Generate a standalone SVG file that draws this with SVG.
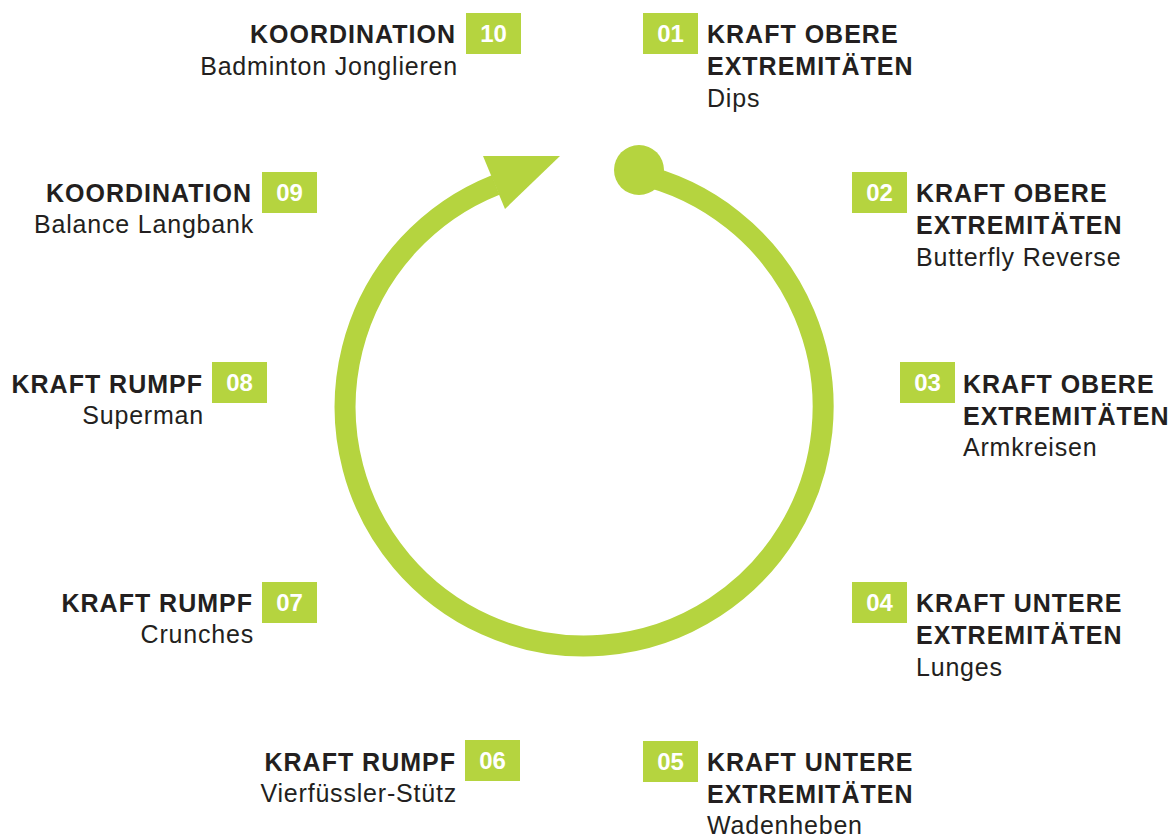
<svg xmlns="http://www.w3.org/2000/svg" width="1172" height="837" viewBox="0 0 1172 837">
<style>
.bg{fill:#ffffff}
.box{fill:#B5D43F}
.num{font-family:"Liberation Sans",Arial,Helvetica,sans-serif;font-weight:bold;font-size:24px;fill:#ffffff;text-anchor:middle}
.t{font-family:"Liberation Sans",Arial,Helvetica,sans-serif;font-weight:bold;font-size:25px;fill:#231F20;letter-spacing:1px}
.s{font-family:"Liberation Sans",Arial,Helvetica,sans-serif;font-size:25px;fill:#231F20;letter-spacing:0.8px}
.r{text-anchor:end}
.ring{fill:none;stroke:#B5D43F;stroke-width:21}
.green{fill:#B5D43F}
</style>
<rect class="bg" x="0" y="0" width="1172" height="837"/>
<g id="connectors">
<path class="ring" d="M 637.8 174.1 A 239 239 0 1 1 495.6 185"/>
<circle class="green" cx="639" cy="170" r="25"/>
<polygon class="green" points="483,156 560,156 505,209"/>
</g>
<g id="n01">
<rect class="box" x="643" y="13" width="55" height="41"/>
<text class="num" x="670.5" y="42">01</text>
<text class="t" x="707" y="43">KRAFT OBERE</text>
<text class="t" x="707" y="75">EXTREMITÄTEN</text>
<text class="s" x="707" y="107">Dips</text>
</g>
<g id="n02">
<rect class="box" x="852" y="172" width="55" height="41"/>
<text class="num" x="879.5" y="201">02</text>
<text class="t" x="916" y="202">KRAFT OBERE</text>
<text class="t" x="916" y="234">EXTREMITÄTEN</text>
<text class="s" x="916" y="266">Butterfly Reverse</text>
</g>
<g id="n03">
<rect class="box" x="900" y="362" width="55" height="41"/>
<text class="num" x="927.5" y="391">03</text>
<text class="t" x="963" y="393">KRAFT OBERE</text>
<text class="t" x="963" y="425">EXTREMITÄTEN</text>
<text class="s" x="963" y="456">Armkreisen</text>
</g>
<g id="n04">
<rect class="box" x="852" y="582" width="55" height="41"/>
<text class="num" x="879.5" y="611">04</text>
<text class="t" x="916" y="612">KRAFT UNTERE</text>
<text class="t" x="916" y="644">EXTREMITÄTEN</text>
<text class="s" x="916" y="676">Lunges</text>
</g>
<g id="n05">
<rect class="box" x="643" y="741" width="55" height="41"/>
<text class="num" x="670.5" y="770">05</text>
<text class="t" x="707" y="771">KRAFT UNTERE</text>
<text class="t" x="707" y="803">EXTREMITÄTEN</text>
<text class="s" x="707" y="834">Wadenheben</text>
</g>
<g id="n06">
<rect class="box" x="465" y="740" width="55" height="41"/>
<text class="num" x="492.5" y="769">06</text>
<text class="t r" x="456" y="771">KRAFT RUMPF</text>
<text class="s r" x="457" y="802">Vierfüssler-Stütz</text>
</g>
<g id="n07">
<rect class="box" x="262" y="582" width="55" height="41"/>
<text class="num" x="289.5" y="611">07</text>
<text class="t r" x="253" y="612">KRAFT RUMPF</text>
<text class="s r" x="254" y="643">Crunches</text>
</g>
<g id="n08">
<rect class="box" x="212" y="362" width="55" height="41"/>
<text class="num" x="239.5" y="391">08</text>
<text class="t r" x="203" y="393">KRAFT RUMPF</text>
<text class="s r" x="204" y="424">Superman</text>
</g>
<g id="n09">
<rect class="box" x="262" y="172" width="55" height="41"/>
<text class="num" x="289.5" y="201">09</text>
<text class="t r" x="252" y="202">KOORDINATION</text>
<text class="s r" x="254" y="233">Balance Langbank</text>
</g>
<g id="n10">
<rect class="box" x="466" y="13" width="55" height="41"/>
<text class="num" x="493.5" y="42">10</text>
<text class="t r" x="456" y="43">KOORDINATION</text>
<text class="s r" x="458" y="75">Badminton Jonglieren</text>
</g>
</svg>
